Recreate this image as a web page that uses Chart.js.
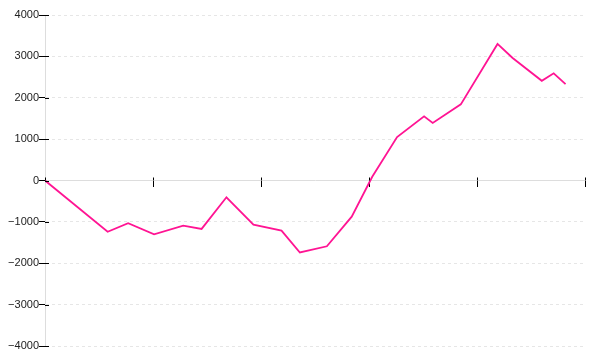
<!DOCTYPE html>
<html>
<head>
<meta charset="utf-8">
<script src="https://cdn.jsdelivr.net/npm/chart.js@4"></script>
<style>
  html, body { margin: 0; padding: 0; background: #fff; }
  #wrap { width: 600px; height: 360px; }
</style>
</head>
<body>
<div id="wrap"><canvas id="c"></canvas></div>
<script>
// x positions (arbitrary units, tick every 10), y values
const xs = [0, 5.8, 7.7, 10.1, 12.8, 14.5, 16.8, 19.3, 21.9, 23.6, 26.1, 28.4,
            30.3, 32.6, 35.1, 35.9, 38.5, 41.9, 43.3, 46.0, 47.1, 48.2];
const ys = [0, -1240, -1030, -1300, -1090, -1170, -405, -1065, -1210, -1740, -1590, -875,
            90, 1050, 1550, 1390, 1840, 3300, 2960, 2410, 2590, 2330];

const yTicks = { min: -4000, max: 4000, step: 1000 };
const xTicks = { min: 0, max: 50, step: 10 };

const points = xs.map((x, i) => ({ x: x, y: ys[i] }));

// tick marks in the original cross the axis line a little
const tickCross = {
    id: 'tickCross',
    afterDatasetsDraw(chart) {
        const ctx = chart.ctx;
        const sx = chart.scales.x, sy = chart.scales.y;
        const y0 = sy.getPixelForValue(0);
        const x0 = sx.left;
        ctx.save();
        ctx.strokeStyle = '#000';
        ctx.lineWidth = 1;
        ctx.beginPath();
        sx.ticks.forEach(t => {
            const px = Math.round(sx.getPixelForValue(t.value)) + 0.5;
            ctx.moveTo(px, y0 - 3);
            ctx.lineTo(px, y0);
        });
        sy.ticks.forEach(t => {
            const py = Math.round(sy.getPixelForValue(t.value)) + 0.5;
            ctx.moveTo(x0, py);
            ctx.lineTo(x0 + 4, py);
        });
        ctx.stroke();
        ctx.restore();
    }
};

new Chart(document.getElementById('c'), {
    type: 'line',
    data: {
        datasets: [{
            data: points,
            borderColor: '#ff1493',
            borderWidth: 1.8,
            pointRadius: 0,
            tension: 0,
            fill: false
        }]
    },
    options: {
        responsive: true,
        maintainAspectRatio: false,
        animation: false,
        events: [],
        layout: { padding: { top: 15, right: 15, bottom: 14, left: 0 } },
        plugins: {
            legend: { display: false },
            tooltip: { enabled: false }
        },
        scales: {
            x: {
                type: 'linear',
                position: { y: 0 },
                min: xTicks.min,
                max: xTicks.max,
                ticks: { stepSize: xTicks.step, display: false },
                grid: {
                    drawOnChartArea: false,
                    drawTicks: true,
                    tickLength: 6,
                    tickColor: '#000'
                },
                border: { color: '#dddddd', width: 1 }
            },
            y: {
                position: 'left',
                min: yTicks.min,
                max: yTicks.max,
                afterFit: s => { s.width = 45; },
                ticks: {
                    stepSize: yTicks.step,
                    padding: 0,
                    color: '#222',
                    font: { family: 'Liberation Sans', size: 11 },
                    callback: v => String(v).replace('-', '\u2212')
                },
                grid: {
                    color: '#e6e6e6',
                    tickColor: '#000',
                    tickLength: 6,
                    tickBorderDash: []
                },
                border: { color: '#dddddd', width: 1, dash: [3, 3], dashOffset: 0 }
            }
        }
    },
    plugins: [tickCross]
});
</script>
</body>
</html>
